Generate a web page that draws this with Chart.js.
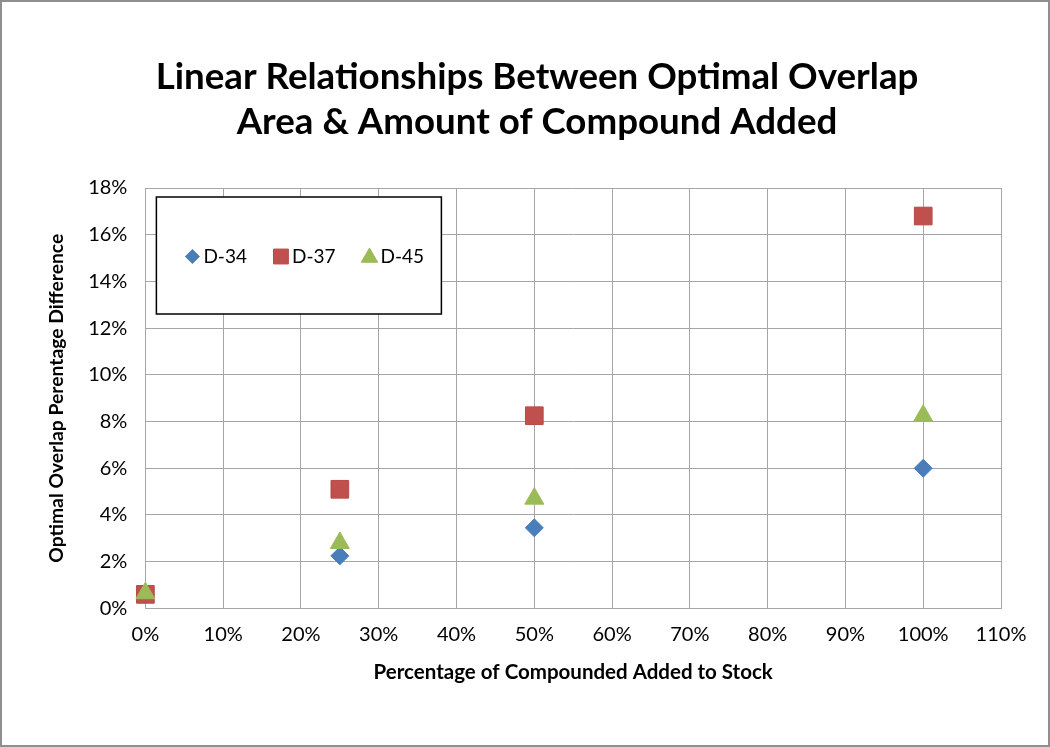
<!DOCTYPE html>
<html>
<head>
<meta charset="utf-8">
<script src="https://cdn.jsdelivr.net/npm/chart.js@4.4.0/dist/chart.umd.min.js"></script>
<style>
  body { margin: 0; background: #fff; }
  #wrap { width: 1050px; height: 747px; box-sizing: border-box; border: 2px solid #8f8f8f; }
  canvas { display: block; }
</style>
</head>
<body>
<div id="wrap"><canvas id="myChart" width="1046" height="743"></canvas></div>
<script>
'use strict';

// x values: percentage of compound added to stock
let compound_added = [0, 25, 50, 100];
// y values: optimal overlap percentage difference (in %)
let d34_values = [0.6, 2.25, 3.45, 6.0];
let d37_values = [0.6, 5.1, 8.25, 16.8];
let d45_values = [0.65, 2.8, 4.7, 8.25];

let series_names = ['D-34', 'D-37', 'D-45'];
let title_lines = ['Linear Relationships Between Optimal Overlap', 'Area & Amount of Compound Added'];
let x_title = 'Percentage of Compounded Added to Stock';
let y_title = 'Optimal Overlap Perentage Difference';

function toPoints(values) {
  let pts = [];
  for (let i = 0; i < compound_added.length; i++) {
    pts.push({x: compound_added[i], y: values[i]});
  }
  return pts;
}

let fontName = 'Lato, "Open Sans", sans-serif';

// title sits a bit right of the canvas centre in the original, so draw it here
let offsetTitle = {
  id: 'offsetTitle',
  afterDraw(chart) {
    let ctx = chart.ctx;
    ctx.save();
    ctx.font = 'bold 36.7px ' + fontName;
    ctx.fillStyle = '#000000';
    ctx.textAlign = 'center';
    ctx.textBaseline = 'middle';
    let cx = chart.width / 2 + 12;
    for (let i = 0; i < title_lines.length; i++) {
      ctx.fillText(title_lines[i], cx, 75 + i * 45);
    }
    ctx.restore();
  }
};

// legend drawn as a framed box inside the plot, like the original
let boxLegend = {
  id: 'boxLegend',
  afterDraw(chart) {
    let ctx = chart.ctx;
    let area = chart.chartArea;
    let left = area.left + 11, top = area.top + 9, w = 285, h = 117;
    ctx.save();
    ctx.fillStyle = '#ffffff';
    ctx.fillRect(left, top, w, h);
    ctx.strokeStyle = '#000000';
    ctx.lineWidth = 1.5;
    ctx.strokeRect(left, top, w, h);

    ctx.font = '19px ' + fontName;
    ctx.textBaseline = 'middle';
    let cy = top + h / 2 + 1;
    let x = left + 31;
    chart.data.datasets.forEach(function (ds) {
      ctx.fillStyle = ds.backgroundColor;
      ctx.strokeStyle = ds.borderColor;
      ctx.lineWidth = 1;
      let mr = ds.pointStyle === 'rect' ? 10.5 : ds.pointStyle === 'triangle' ? 9.5 : 7;
      Chart.helpers.drawPoint(ctx, {pointStyle: ds.pointStyle, radius: mr, borderWidth: 1}, x + 5, cy + (ds.pointStyle === 'triangle' ? 1 : 0));
      ctx.fillStyle = '#000000';
      ctx.fillText(ds.label, x + 16, cy);
      x += 16 + ctx.measureText(ds.label).width + 29;
    });
    ctx.restore();
  }
};

let ctx = document.getElementById('myChart').getContext('2d');
new Chart(ctx, {
  type: 'scatter',
  data: {
    datasets: [{
      label: series_names[0],
      data: toPoints(d34_values),
      pointStyle: 'rectRot',
      pointRadius: 9,
      backgroundColor: '#4a7ebb',
      borderColor: '#4a7ebb',
      borderWidth: 1,
      order: 2,
      clip: false
    }, {
      label: series_names[1],
      data: toPoints(d37_values),
      pointStyle: 'rect',
      pointRadius: 12.5,
      backgroundColor: '#c0504d',
      borderColor: '#b84a47',
      borderWidth: 1,
      order: 1,
      clip: false
    }, {
      label: series_names[2],
      data: toPoints(d45_values),
      pointStyle: 'triangle',
      pointRadius: 11,
      backgroundColor: '#9bbb59',
      borderColor: '#9bbb59',
      borderWidth: 1,
      order: 0,
      clip: false
    }]
  },
  options: {
    responsive: false,
    animation: false,
    layout: { padding: { left: 43, right: 47, top: 186, bottom: 60 } },
    plugins: {
      legend: { display: false },
      tooltip: { enabled: false },
      title: { display: false }
    },
    scales: {
      x: {
        type: 'linear',
        min: 0,
        max: 110,
        ticks: {
          stepSize: 10,
          padding: 14,
          color: '#000000',
          font: { family: fontName, size: 20 },
          callback: function (v) { return v + '%'; }
        },
        grid: { color: '#a6a6a6', lineWidth: 1, drawTicks: false },
        border: { color: '#a6a6a6' },
        title: {
          display: true,
          text: x_title,
          color: '#000000',
          font: { family: fontName, size: 20.5, weight: 'bold' },
          padding: { top: 0, bottom: 0 }
        }
      },
      y: {
        type: 'linear',
        min: 0,
        max: 18,
        ticks: {
          stepSize: 2,
          padding: 18,
          color: '#000000',
          font: { family: fontName, size: 20 },
          callback: function (v) { return v + '%'; }
        },
        grid: { color: '#a6a6a6', lineWidth: 1, drawTicks: false },
        border: { color: '#a6a6a6' },
        title: {
          display: true,
          text: y_title,
          color: '#000000',
          font: { family: fontName, size: 19.3, weight: 'bold' },
          padding: { top: 0, bottom: 2 }
        }
      }
    }
  },
  plugins: [offsetTitle, boxLegend]
});
</script>
</body>
</html>
